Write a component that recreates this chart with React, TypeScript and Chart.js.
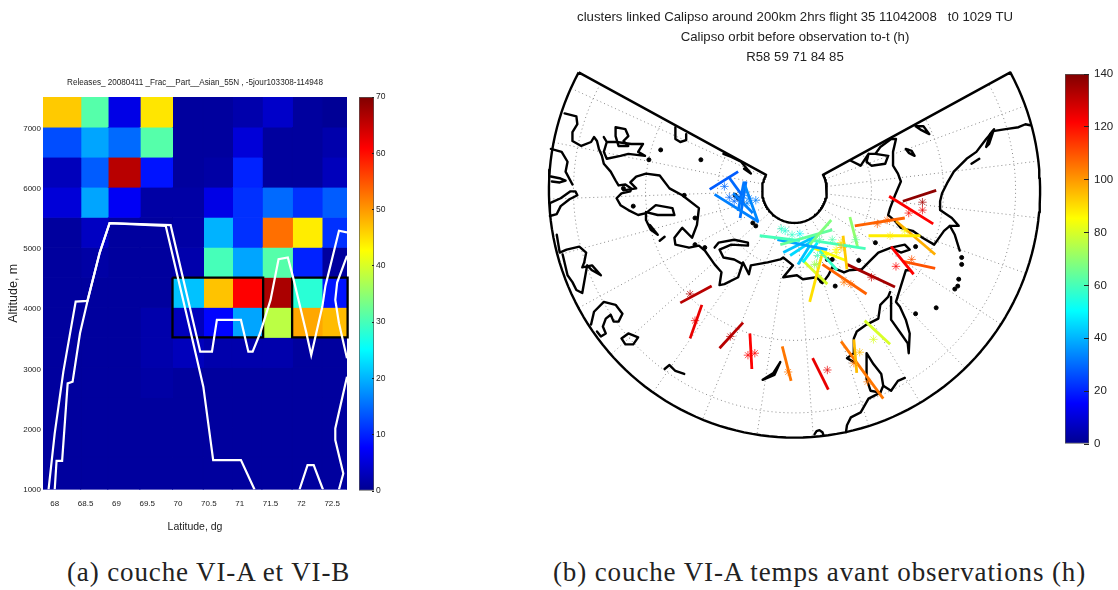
import React, { useEffect, useRef } from "react";
import { Chart, registerables } from "chart.js";
Chart.register(...registerables);

type P = [number, number];

// ---------- panel (a): heat map ----------
const heatTitle = "Releases_ 20080411 _Frac__Part__Asian_55N , -5jour103308-114948";
const latEdges = [67.81, 68.42, 68.86, 69.38, 69.91, 70.41, 70.88, 71.36, 71.85, 72.33, 72.74];
const altEdges = [7533, 7033, 6533, 6033, 5533, 5033, 4533, 4033, 3533, 3033, 2533, 2033, 1533, 1000];
const row0 = [46.5, 31, 6, 44.5, 1, 1, 2, 4, 1, 0.5];
const row1 = [13, 19, 15, 31, 1, 1, 5, 1, 1, 2];
const row2 = [3, 14, 66, 9, 1, 1.5, 10, 1, 1, 3];
const row3 = [5, 19, 7, 1.5, 1.5, 6, 11, 15, 11, 14];
const row4 = [1, 3.5, 1, 1, 1.5, 20, 11, 53, 44, 11];
const row5 = [1, 1.5, 1, 1, 2, 30, 19, 31, 10, 1];
const row6 = [1, 1, 1, 1, 21, 47, 61, 67, 28, 9];
const row7 = [1, 1, 1, 2, 3, 8, 19, 38, 49, 47.5];
const row8 = [1, 1, 1, 2, 3, 2, 2, 2, 1, 1];
const row9 = [1, 1, 1, 1.5, 1, 1, 1, 1, 1, 1];
const row10 = [1, 1, 1, 1, 1, 1, 1, 1, 1, 1];
const row11 = [1, 1, 1, 1, 1, 1, 1, 1, 1, 1];
const row12 = [1, 1, 1, 1, 1, 1, 1, 1, 1, 1];
const heatRows = [row0, row1, row2, row3, row4, row5, row6, row7, row8, row9, row10, row11, row12];
const latTicks = [68, 68.5, 69, 69.5, 70, 70.5, 71, 71.5, 72, 72.5];
const altTicks = [1000, 2000, 3000, 4000, 5000, 6000, 7000];
const contourA: P[] = [[67.9, 1000], [68.0, 1933], [68.14, 2961], [68.24, 3544], [68.34, 4128], [68.53, 4140], [68.73, 4944], [68.89, 5433], [69.8, 5389], [70.22, 3556], [70.41, 2711], [70.57, 1489], [71.02, 1489], [71.24, 1000]];
const contourB: P[] = [[68.0, 1000], [68.03, 1478], [68.12, 1478], [68.21, 2767], [68.29, 2794], [68.41, 3600], [68.53, 4128], [68.73, 4944], [68.89, 5433], [69.88, 5400], [70.3, 3556], [70.36, 3294], [70.55, 3294], [70.63, 3822], [71.02, 3822], [71.14, 3294], [71.21, 3294], [71.33, 3600], [71.5, 4156], [71.63, 4833], [71.78, 4861], [71.86, 4556], [72.08, 3611], [72.16, 3239], [72.34, 4044], [72.39, 4389], [72.61, 5306], [72.74, 5278]];
const contourC: P[] = [[72.61, 1000], [72.68, 1267], [72.55, 1822], [72.55, 2017], [72.74, 2878]];
const contourD: P[] = [[72.74, 3183], [72.61, 3767], [72.55, 4156], [72.58, 4444], [72.74, 4889]];
const contourE: P[] = [[71.97, 1000], [72.1, 1406], [72.2, 1406], [72.35, 1000]];
const heatContours = [contourA, contourB, contourC, contourD, contourE];
const boxA: P[] = [[69.91, 4528], [71.38, 4528], [71.38, 3533], [69.91, 3533], [69.91, 4528]];
const boxB: P[] = [[71.85, 4528], [72.75, 4528], [72.75, 3533], [71.85, 3533], [71.85, 4528]];
const heatBoxes = [boxA, boxB];

// ---------- panel (b): map ----------
const mapTitle = ["clusters linked Calipso around 200km 2hrs flight 35 11042008   t0 1029 TU", "Calipso orbit before observation to-t (h)", "R58 59 71 84 85"];
const ringRadii = [78.5, 152, 225.5];
const meridianAngles = [114.4, 101.2, 88, 74.8, 61.6, 48.4, 35.2, 22, 8.8, -4.4, -17.6, -30.8, -44, -57.2, -70.4, -83.6, -96.8, -110];
const coastNorth: P[] = [[560, 114], [572, 117], [573, 125], [568, 133], [568, 142], [577, 147], [587, 143], [590, 138], [593, 142], [595, 150], [598, 157], [600, 165], [607, 173], [612, 182], [615, 187], [622, 186], [628, 190], [627, 193], [618, 195], [613, 200], [617, 207], [625, 212], [635, 217], [643, 215], [653, 207], [670, 210], [672, 217], [655, 217], [643, 214], [643, 222], [648, 232], [655, 237], [647, 227]];
const coastBay: P[] = [[620, 192], [633, 190], [627, 184], [633, 178], [643, 175], [657, 177], [667, 190], [680, 197], [697, 210], [695, 227], [690, 240], [680, 230], [672, 240], [673, 247], [687, 250], [697, 248], [703, 253], [713, 267], [720, 275], [718, 288], [723, 287], [737, 280], [742, 265], [748, 277], [750, 268], [767, 265], [780, 262], [783, 260], [793, 268], [783, 280], [797, 278], [803, 282], [817, 280], [823, 286], [829, 278], [833, 270], [845, 275], [850, 273], [863, 272], [872, 263], [880, 255], [893, 250], [907, 247], [912, 252], [903, 255], [893, 250]];
const coastUngava: P[] = [[713, 250], [717, 245], [733, 242], [747, 245], [747, 248], [730, 247], [718, 252], [722, 260], [733, 262], [742, 267]];
const coastRussia: P[] = [[1035, 126], [1030, 125], [1023, 128], [1010, 130], [997, 132], [990, 140], [980, 153], [970, 160], [957, 173], [950, 185], [945, 195], [943, 203], [943, 212], [955, 220], [962, 228], [953, 228], [947, 233], [937, 247], [925, 240], [915, 233], [903, 230], [897, 223], [890, 217], [892, 210], [897, 197], [903, 183], [900, 175], [895, 167], [895, 153], [898, 140], [893, 140], [882, 148], [877, 155]];
const coastEast: P[] = [[953, 228], [958, 237], [963, 253]];
const coastSvalbard: P[] = [[852, 162], [862, 167], [870, 155], [868, 163], [873, 167], [887, 165], [890, 157], [877, 155], [870, 155]];
const coastKola: P[] = [[892, 295], [890, 300], [882, 308], [880, 322], [868, 328], [858, 335], [855, 342], [855, 357], [848, 362], [857, 367]];
const coastItaly: P[] = [[868, 357], [875, 368], [883, 378], [885, 390], [882, 397], [872, 395], [868, 383], [868, 357]];
const coastAfrica: P[] = [[882, 397], [870, 403], [862, 417], [852, 422], [848, 430], [847, 437]];
const coastFinger: P[] = [[893, 300], [893, 323], [903, 337], [910, 347], [911, 357], [912, 337], [908, 323], [902, 310], [898, 305], [908, 273], [912, 273]];
const coastSpain: P[] = [[885, 390], [893, 395], [900, 385], [907, 382]];
const islandNorthSea: P[] = [[908, 150], [914, 152], [917, 157], [911, 154], [908, 150]];
const islandIce: P[] = [[918, 127], [926, 127], [932, 135], [924, 131], [918, 127]];
const islandCoast: P[] = [[975, 165], [983, 160]];
const islandKam: P[] = [[990, 148], [994, 135], [998, 130], [993, 145], [990, 148]];
const islandNW1: P[] = [[612, 128], [622, 130], [625, 137], [620, 142], [625, 147], [615, 147], [612, 137], [612, 128]];
const islandNW2: P[] = [[600, 138], [603, 143], [613, 143], [628, 145], [640, 145], [635, 153], [642, 157], [625, 155], [617, 157], [603, 160], [600, 153], [603, 143]];
const islandEdge: P[] = [[673, 128], [673, 140], [678, 143], [684, 141], [684, 135]];
const coastTopEdge: P[] = [[722, 155], [730, 158], [740, 163], [750, 175], [743, 170]];
const coastW1: P[] = [[546, 150], [557, 153], [563, 163], [561, 173], [568, 186]];
const coastW2: P[] = [[546, 178], [556, 180], [561, 182], [555, 184], [547, 183]];
const coastW3: P[] = [[545, 205], [556, 200], [566, 193], [571, 193], [573, 197], [565, 201], [556, 208], [552, 216], [545, 218]];
const coastGreen: P[] = [[552, 237], [555, 255], [562, 252], [575, 249], [582, 255], [580, 265], [578, 270], [588, 268], [597, 278], [588, 273], [583, 268], [578, 296], [572, 293], [568, 285], [563, 278], [558, 257]];
const coastSW: P[] = [[587, 328], [590, 315], [600, 305], [612, 308], [619, 317], [615, 325], [610, 325], [607, 318], [602, 322], [599, 330], [602, 337], [597, 340], [593, 335]];
const islandSW: P[] = [[618, 342], [625, 337], [635, 341], [630, 348], [622, 348], [618, 342]];
const islandArc: P[] = [[662, 373], [667, 369], [673, 375], [682, 378]];
const islandCuba: P[] = [[762, 384], [773, 377], [780, 366], [774, 379], [762, 384]];
const islandRim: P[] = [[815, 439], [817, 436], [820, 435], [823, 437], [824, 440]];
const islandBar: P[] = [[657, 243], [662, 239]];
const coastlines = [coastNorth, coastBay, coastUngava, coastRussia, coastEast, coastSvalbard, coastKola, coastItaly, coastAfrica, coastFinger, coastSpain, islandNorthSea, islandIce, islandCoast, islandKam, islandNW1, islandNW2, islandEdge, coastTopEdge, coastW1, coastW2, coastW3, coastGreen, coastSW, islandSW, islandArc, islandCuba, islandRim, islandBar];
const landDots: P[] = [[658, 151], [646, 161], [699, 161], [965, 260], [965, 267], [962, 282], [958, 292], [961, 289], [939, 311], [918, 317], [877, 245], [918, 249], [752, 225], [755, 228], [737, 200], [833, 262], [828, 262], [860, 263], [836, 289], [682, 197], [693, 220], [630, 208], [703, 250], [693, 247], [620, 190], [734, 197], [741, 204], [822, 284]];

const trackPaths: [P, P][] = [
  [[708, 191], [737, 173]], [[713, 196], [758, 224]], [[727, 178], [741, 197]], [[743, 183], [737, 213]], [[744, 187], [757, 223]],
  [[745, 183], [739, 220]], [[732, 195], [752, 215]],
  [[759, 238], [800, 243]], [[820, 253], [838, 273]], [[832, 222], [810, 247]], [[833, 232], [780, 247]], [[777, 242], [828, 252]],
  [[817, 238], [783, 255]], [[813, 243], [790, 258]], [[810, 248], [798, 267]], [[818, 245], [803, 265]], [[807, 242], [867, 251]],
  [[851, 219], [859, 250]], [[844, 238], [848, 272]], [[856, 228], [907, 220]], [[870, 238], [923, 238]], [[813, 250], [847, 263]],
  [[823, 255], [810, 305]], [[802, 262], [828, 287]], [[823, 267], [868, 297]], [[848, 267], [897, 290]], [[905, 203], [939, 192]],
  [[891, 198], [936, 226]], [[898, 223], [938, 257]], [[893, 249], [916, 277]], [[905, 264], [938, 271]], [[866, 324], [892, 348]],
  [[855, 343], [858, 377]], [[842, 345], [885, 403]], [[813, 362], [829, 394]], [[782, 350], [791, 385]], [[749, 337], [751, 373]],
  [[742, 326], [718, 352]], [[700, 308], [688, 342]], [[710, 289], [678, 306]],
];
const trackHours = [28, 33, 30, 32, 34, 31, 33, 60, 58, 68, 64, 38, 42, 45, 42, 48, 60, 70, 93, 108, 88, 85, 90, 80, 108, 135, 138, 122, 97, 122, 110, 80, 95, 105, 125, 105, 122, 132, 125, 132];
const starPoints: P[] = [[723, 188], [728, 199], [737, 200], [748, 200], [755, 202], [742, 197], [733, 203], [746, 205], [781, 231], [792, 237], [800, 236], [785, 233], [820, 242], [833, 242], [837, 252], [842, 245], [817, 267], [827, 257], [818, 258], [857, 242], [842, 250], [837, 255], [815, 267], [845, 285], [852, 287], [879, 226], [889, 222], [892, 238], [907, 233], [911, 215], [925, 204], [925, 212], [873, 280], [914, 262], [898, 269], [875, 343], [861, 356], [855, 367], [869, 386], [828, 374], [788, 376], [747, 359], [754, 357], [729, 340], [693, 324], [688, 297]];
const starHours = [30, 30, 32, 33, 33, 32, 30, 33, 58, 58, 52, 56, 62, 62, 85, 90, 75, 85, 60, 65, 95, 85, 72, 105, 107, 108, 108, 88, 85, 120, 135, 125, 130, 110, 122, 80, 95, 105, 105, 125, 105, 122, 122, 132, 125, 132];

const heatBarTicks = [0, 10, 20, 30, 40, 50, 60, 70];
const mapBarTicks = [0, 20, 40, 60, 80, 100, 120, 140];
const captionA = "(a) couche VI-A et VI-B";
const captionB = "(b) couche VI-A temps avant observations (h)";

// ---------- helpers ----------
const jetStops: [number, number, number, number][] = [[0, 0, 0, 143], [0.11, 0, 0, 255], [0.36, 0, 255, 255], [0.61, 255, 255, 0], [0.87, 255, 0, 0], [1, 128, 0, 0]];
function jet(t: number) {
  const v = Math.min(1, Math.max(0, t));
  for (let i = 1; i < jetStops.length; i++) {
    const a = jetStops[i - 1], b = jetStops[i];
    if (v <= b[0]) {
      const k = (v - a[0]) / (b[0] - a[0]);
      return `rgb(${Math.round(a[1] + k * (b[1] - a[1]))},${Math.round(a[2] + k * (b[2] - a[2]))},${Math.round(a[3] + k * (b[3] - a[3]))})`;
    }
  }
  return "rgb(128,0,0)";
}
const xy = (p: P) => ({ x: p[0], y: p[1] });
const CX = 794.5, CY = 192, R_OUT = 250.5, R_IN = 33, EDGE = 118.5;
function polar(r: number, deg: number) {
  const a = (deg * Math.PI) / 180;
  return { x: CX - r * Math.sin(a), y: CY + r * Math.cos(a) };
}
function arc(r: number, from: number, to: number) {
  const pts = [];
  const n = 120;
  for (let i = 0; i <= n; i++) pts.push(polar(r, from + ((to - from) * i) / n));
  return pts;
}
const SANS = "'Liberation Sans', Arial, sans-serif";
const tickColor = "#222";

function colorBar(canvas: HTMLCanvasElement, max: number, ticks: number[], fontSize: number, scaleWidth: number, inner: number, pad: number) {
  return new Chart(canvas, {
    type: "bar",
    data: {
      labels: [""],
      datasets: [{
        data: [[0, max]] as any,
        categoryPercentage: 1,
        barPercentage: 1,
        borderColor: "#555",
        borderWidth: 1,
        borderSkipped: false,
        backgroundColor: (c: any) => {
          const a = c.chart.chartArea;
          if (!a) return "#00f";
          const g = c.chart.ctx.createLinearGradient(0, a.bottom, 0, a.top);
          jetStops.forEach((s) => g.addColorStop(s[0], jet(s[0])));
          return g;
        },
      }],
    },
    options: {
      responsive: false,
      animation: false,
      layout: { padding: { top: 20, bottom: 20, left: 0, right: 0 } },
      plugins: { legend: { display: false }, tooltip: { enabled: false }, title: { display: false } },
      scales: {
        x: { display: false },
        y: {
          position: "right",
          min: 0,
          max,
          afterBuildTicks: (s: any) => { s.ticks = ticks.map((value) => ({ value })); },
          afterFit: (s: any) => { s.width = scaleWidth; },
          border: { display: false },
          grid: { drawOnChartArea: false, tickLength: -inner, tickColor: "#222", z: 2 },
          ticks: { font: { family: SANS, size: fontSize }, color: tickColor, padding: pad + inner },
        },
      },
    } as any,
  });
}

function heatChart(canvas: HTMLCanvasElement) {
  const datasets: any[] = [];
  heatRows.forEach((row, r) => row.forEach((v, c) => {
    const color = jet(v / 70);
    datasets.push({
      data: [
        { x: latEdges[c], y: altEdges[r] }, { x: latEdges[c + 1], y: altEdges[r] },
        { x: latEdges[c + 1], y: altEdges[r + 1] }, { x: latEdges[c], y: altEdges[r + 1] }, { x: latEdges[c], y: altEdges[r] },
      ],
      showLine: true, fill: "shape", backgroundColor: color, borderColor: color, borderWidth: 1, pointRadius: 0, order: 10, tension: 0,
    });
  }));
  heatBoxes.forEach((b) => datasets.push({ data: b.map(xy), showLine: true, borderColor: "#000", borderWidth: 2.3, pointRadius: 0, order: 2, clip: false }));
  heatContours.forEach((l) => datasets.push({ data: l.map(xy), showLine: true, borderColor: "#fff", borderWidth: 2.2, pointRadius: 0, order: 1, tension: 0 }));
  return new Chart(canvas, {
    type: "scatter",
    data: { datasets },
    options: {
      responsive: false,
      animation: false,
      layout: { padding: { left: 0, right: 3, top: 0, bottom: 0 } },
      plugins: {
        legend: { display: false },
        tooltip: { enabled: false },
        title: { display: true, text: heatTitle, fullSize: false, color: "#222", font: { family: SANS, size: 8.15, weight: "normal", lineHeight: 1.2 }, padding: { top: 8, bottom: 9.2 } },
      },
      scales: {
        x: {
          type: "linear", min: 67.81, max: 72.74,
          afterBuildTicks: (s: any) => { s.ticks = latTicks.map((value) => ({ value })); },
          afterFit: (s: any) => { s.height = 50.5; },
          grid: { display: false, drawTicks: false },
          border: { display: false },
          ticks: { font: { family: SANS, size: 8 }, color: tickColor, padding: 9, maxRotation: 0, autoSkip: false, callback: (v: any) => String(v) },
          title: { display: true, text: "Latitude, dg", color: "#222", font: { family: SANS, size: 10.5 }, padding: { top: 2, bottom: 7 } },
        },
        y: {
          type: "linear", min: 1000, max: 7533,
          afterBuildTicks: (s: any) => { s.ticks = altTicks.map((value) => ({ value })); },
          afterFit: (s: any) => { s.width = 43; },
          grid: { display: false, drawTicks: false },
          border: { display: false },
          ticks: { font: { family: SANS, size: 8 }, color: tickColor, padding: 2, autoSkip: false, callback: (v: any) => String(v) },
          title: { display: true, text: "Altitude, m", color: "#222", font: { family: SANS, size: 12.5 }, padding: { top: 6, bottom: 0 } },
        },
      },
    } as any,
  });
}

function mapChart(canvas: HTMLCanvasElement) {
  const datasets: any[] = [];
  ringRadii.forEach((r) => datasets.push({ data: arc(r, EDGE, -EDGE), showLine: true, borderColor: "#8a8a8a", borderWidth: 1, borderDash: [1, 3], pointRadius: 0, order: 9 }));
  meridianAngles.forEach((a) => datasets.push({ data: [polar(R_IN, a), polar(R_OUT, a)], showLine: true, borderColor: "#8a8a8a", borderWidth: 1, borderDash: [1, 3], pointRadius: 0, order: 9 }));
  coastlines.forEach((l) => datasets.push({ data: l.map(xy), showLine: true, borderColor: "#000", borderWidth: 2.4, borderJoinStyle: "round", borderCapStyle: "round", pointRadius: 0, order: 5 }));
  datasets.push({ data: landDots.map(xy), showLine: false, pointRadius: 2, pointBackgroundColor: "#000", pointBorderColor: "#000", order: 5 });
  datasets.push({ data: [...arc(R_OUT, EDGE, -EDGE), ...arc(R_IN, -EDGE, EDGE), polar(R_OUT, EDGE)], showLine: true, borderColor: "#000", borderWidth: 2.4, borderJoinStyle: "round", pointRadius: 0, order: 4 });
  trackPaths.forEach((t, i) => datasets.push({ data: t.map(xy), showLine: true, borderColor: jet(trackHours[i] / 140), borderWidth: 2.8, pointRadius: 0, order: 2 }));
  datasets.push({
    data: starPoints.map(xy), showLine: false, pointStyle: "star", pointRadius: 4.2, pointBorderWidth: 0.7,
    pointBorderColor: starHours.map((h) => jet(h / 140)), pointBackgroundColor: "transparent", order: 1,
  });
  return new Chart(canvas, {
    type: "scatter",
    data: { datasets },
    options: {
      responsive: false,
      animation: false,
      layout: { padding: 0 },
      datasets: { scatter: { clip: false } },
      plugins: {
        legend: { display: false },
        tooltip: { enabled: false },
        title: { display: true, text: mapTitle, color: "#222", font: { family: SANS, size: 13.2, weight: "normal", lineHeight: 1.515 }, padding: { top: 7, bottom: 0 } },
      },
      scales: {
        x: { type: "linear", display: false, min: 540, max: 1050 },
        y: { type: "linear", display: false, reverse: true, min: 67, max: 450 },
      },
    } as any,
  });
}

const captionStyle: React.CSSProperties = {
  position: "absolute", top: 555, whiteSpace: "nowrap", fontFamily: "'Liberation Serif', serif", fontSize: 27, letterSpacing: 0.88, lineHeight: "34px", color: "#222",
};

export default function App() {
  const heatRef = useRef<HTMLCanvasElement>(null);
  const heatBarRef = useRef<HTMLCanvasElement>(null);
  const mapRef = useRef<HTMLCanvasElement>(null);
  const mapBarRef = useRef<HTMLCanvasElement>(null);
  useEffect(() => {
    const charts = [
      heatChart(heatRef.current!),
      colorBar(heatBarRef.current!, 70, heatBarTicks, 8.5, 25, 2, 2),
      mapChart(mapRef.current!),
      colorBar(mapBarRef.current!, 140, mapBarTicks, 11.5, 29, 5, 5),
    ];
    return () => charts.forEach((c) => c.destroy());
  }, []);
  const abs = (left: number, top: number, soft = false): React.CSSProperties => ({ position: "absolute", left, top, display: "block", filter: soft ? "blur(0.4px)" : undefined });
  return (
    <div style={{ position: "absolute", left: 0, top: 0, width: 1118, height: 590, overflow: "hidden", background: "#fff" }}>
      <canvas ref={heatRef} width={350} height={470} style={abs(0, 70, true)} />
      <canvas ref={heatBarRef} width={40} height={434} style={abs(359, 77, true)} />
      <canvas ref={mapRef} width={510} height={450} style={abs(540, 0)} />
      <canvas ref={mapBarRef} width={53} height={410} style={abs(1065, 54)} />
      <div style={{ ...captionStyle, left: 67 }}>{captionA}</div>
      <div style={{ ...captionStyle, left: 553 }}>{captionB}</div>
    </div>
  );
}
